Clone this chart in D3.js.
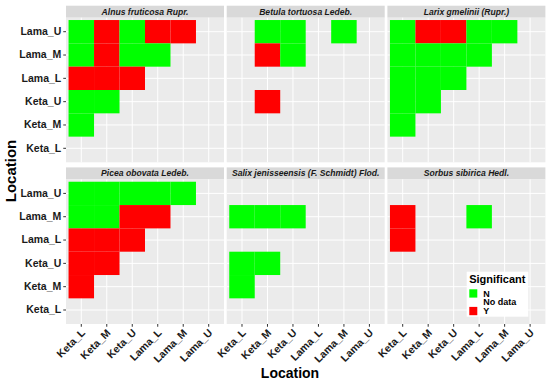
<!DOCTYPE html>
<html>
<head>
<meta charset="utf-8">
<script src="https://cdnjs.cloudflare.com/ajax/libs/d3/7.8.5/d3.min.js"></script>
<style>
  body { margin: 0; background: white; }
  text { font-family: "Liberation Sans", Arial, sans-serif; font-weight: bold; }
</style>
</head>
<body>
<svg width="550" height="385"></svg>
<script>
var locations = ['Keta_L', 'Keta_M', 'Keta_U', 'Lama_L', 'Lama_M', 'Lama_U'];

var species = ['Alnus fruticosa Rupr.', 'Betula tortuosa Ledeb.', 'Larix gmelinii (Rupr.)',
  'Picea obovata Ledeb.', 'Salix jenisseensis (F. Schmidt) Flod.', 'Sorbus sibirica Hedl.'];

// rows go from Lama_U (top) down to Keta_M, columns from Keta_L; null = no data
var alnusSig  = [['N','Y','N','Y','Y'], ['N','Y','N','N'], ['Y','Y','Y'], ['N','N'], ['N']];
var betulaSig = [[null,'N','N',null,'N'], [null,'Y','N',null], [null,null,null], [null,'Y'], [null]];
var larixSig  = [['N','Y','Y','N','N'], ['N','N','N','N'], ['N','N','N'], ['N','N'], ['N']];
var piceaSig  = [['N','N','N','N','N'], ['N','N','Y','Y'], ['Y','Y','Y'], ['Y','Y'], ['Y']];
var salixSig  = [[null,null,null,null,null], ['N','N','N',null], [null,null,null], ['N','N'], ['N']];
var sorbusSig = [[null,null,null,null,null], ['Y',null,null,'N'], ['Y',null,null], [null,null], [null]];

var legendLabels = ['N', 'No data', 'Y'];
var sigColors = {N: '#00ff00', Y: '#ff0000'};

var allSig = [alnusSig, betulaSig, larixSig, piceaSig, salixSig, sorbusSig];

var svg = d3.select('svg');

var colLefts = [66, 226.7, 387.4];
var rowTops = [17.7, 179.4];
var panelW = 158;
var panelH = 144.6;
var stripH = 12;

var xScale = d3.scaleBand().domain(locations).range([0, panelW]).paddingInner(0).paddingOuter(0.1);
var yScale = d3.scaleBand().domain(locations.slice().reverse()).range([0, panelH]).paddingInner(0).paddingOuter(0.1);

species.forEach(function(name, k) {
  var col = k % 3, row = Math.floor(k / 3);
  var px = colLefts[col], py = rowTops[row];

  var cells = [];
  allSig[k].forEach(function(r, i) {
    r.forEach(function(v, j) {
      if (v) cells.push({x: locations[j], y: locations[5 - i], sig: v});
    });
  });

  // strip
  svg.append('rect')
    .attr('x', px).attr('y', py - stripH)
    .attr('width', panelW).attr('height', stripH)
    .attr('fill', '#d9d9d9');
  svg.append('text')
    .attr('x', px + panelW / 2).attr('y', py - 3)
    .attr('text-anchor', 'middle')
    .style('font-size', '8.6px')
    .style('font-style', 'italic')
    .style('fill', '#1a1a1a')
    .text(name);

  var g = svg.append('g').attr('transform', 'translate(' + [px, py] + ')');
  g.append('rect').attr('width', panelW).attr('height', panelH).attr('fill', '#ebebeb');

  g.selectAll('.vgrid').data(locations).enter().append('line')
    .attr('x1', function(d) { return xScale(d) + xScale.bandwidth() / 2; })
    .attr('x2', function(d) { return xScale(d) + xScale.bandwidth() / 2; })
    .attr('y1', 0).attr('y2', panelH)
    .attr('stroke', 'white').attr('stroke-width', 1);
  g.selectAll('.hgrid').data(locations).enter().append('line')
    .attr('y1', function(d) { return yScale(d) + yScale.bandwidth() / 2; })
    .attr('y2', function(d) { return yScale(d) + yScale.bandwidth() / 2; })
    .attr('x1', 0).attr('x2', panelW)
    .attr('stroke', 'white').attr('stroke-width', 1);

  g.selectAll('.tile').data(cells).enter().append('rect')
    .attr('x', function(d) { return xScale(d.x); })
    .attr('y', function(d) { return yScale(d.y); })
    .attr('width', xScale.bandwidth())
    .attr('height', yScale.bandwidth())
    .attr('fill', function(d) { return sigColors[d.sig]; });

  if (col == 0) {
    var yAxis = d3.axisLeft(yScale).tickSize(2.75).tickPadding(2);
    var ya = g.append('g').call(yAxis);
    ya.select('.domain').remove();
    ya.selectAll('line').attr('stroke', '#333333');
    ya.selectAll('text')
      .style('font-size', '10.5px')
      .style('font-family', '"Liberation Sans", Arial, sans-serif')
      .style('font-weight', 'bold')
      .attr('fill', '#1a1a1a');
  }
  if (row == 1) {
    var xAxis = d3.axisBottom(xScale).tickSize(2.75).tickPadding(2);
    var xa = g.append('g').attr('transform', 'translate(0,' + panelH + ')').call(xAxis);
    xa.select('.domain').remove();
    xa.selectAll('line').attr('stroke', '#333333');
    xa.selectAll('text')
      .attr('y', 0).attr('dy', 0)
      .attr('text-anchor', 'end')
      .attr('transform', 'translate(4.5,9.5) rotate(-45)')
      .style('font-size', '10.5px')
      .style('font-family', '"Liberation Sans", Arial, sans-serif')
      .style('font-weight', 'bold')
      .attr('fill', '#1a1a1a');
  }
});

// axis titles
svg.append('text')
  .attr('x', 290).attr('y', 378)
  .attr('text-anchor', 'middle')
  .style('font-size', '14px')
  .text('Location');

svg.append('text')
  .attr('transform', 'translate(16,171) rotate(-90)')
  .attr('text-anchor', 'middle')
  .style('font-size', '15px')
  .text('Location');

// legend
var legend = svg.append('g').attr('transform', 'translate(466.7,271.7)');
legend.append('rect').attr('width', 61.6).attr('height', 45).attr('fill', 'white');
legend.append('text')
  .attr('x', 2.5).attr('y', 11)
  .style('font-size', '11px')
  .text('Significant');

legendLabels.forEach(function(lab, i) {
  var ky = 17.6 + i * 8.8;
  var fill = lab == 'N' ? sigColors.N : (lab == 'Y' ? sigColors.Y : 'white');
  legend.append('rect')
    .attr('x', 2.6).attr('y', ky)
    .attr('width', 8).attr('height', 8.3)
    .attr('fill', fill);
  legend.append('text')
    .attr('x', 16.5).attr('y', ky + 7.3)
    .style('font-size', '9px')
    .text(lab);
});
</script>
</body>
</html>
